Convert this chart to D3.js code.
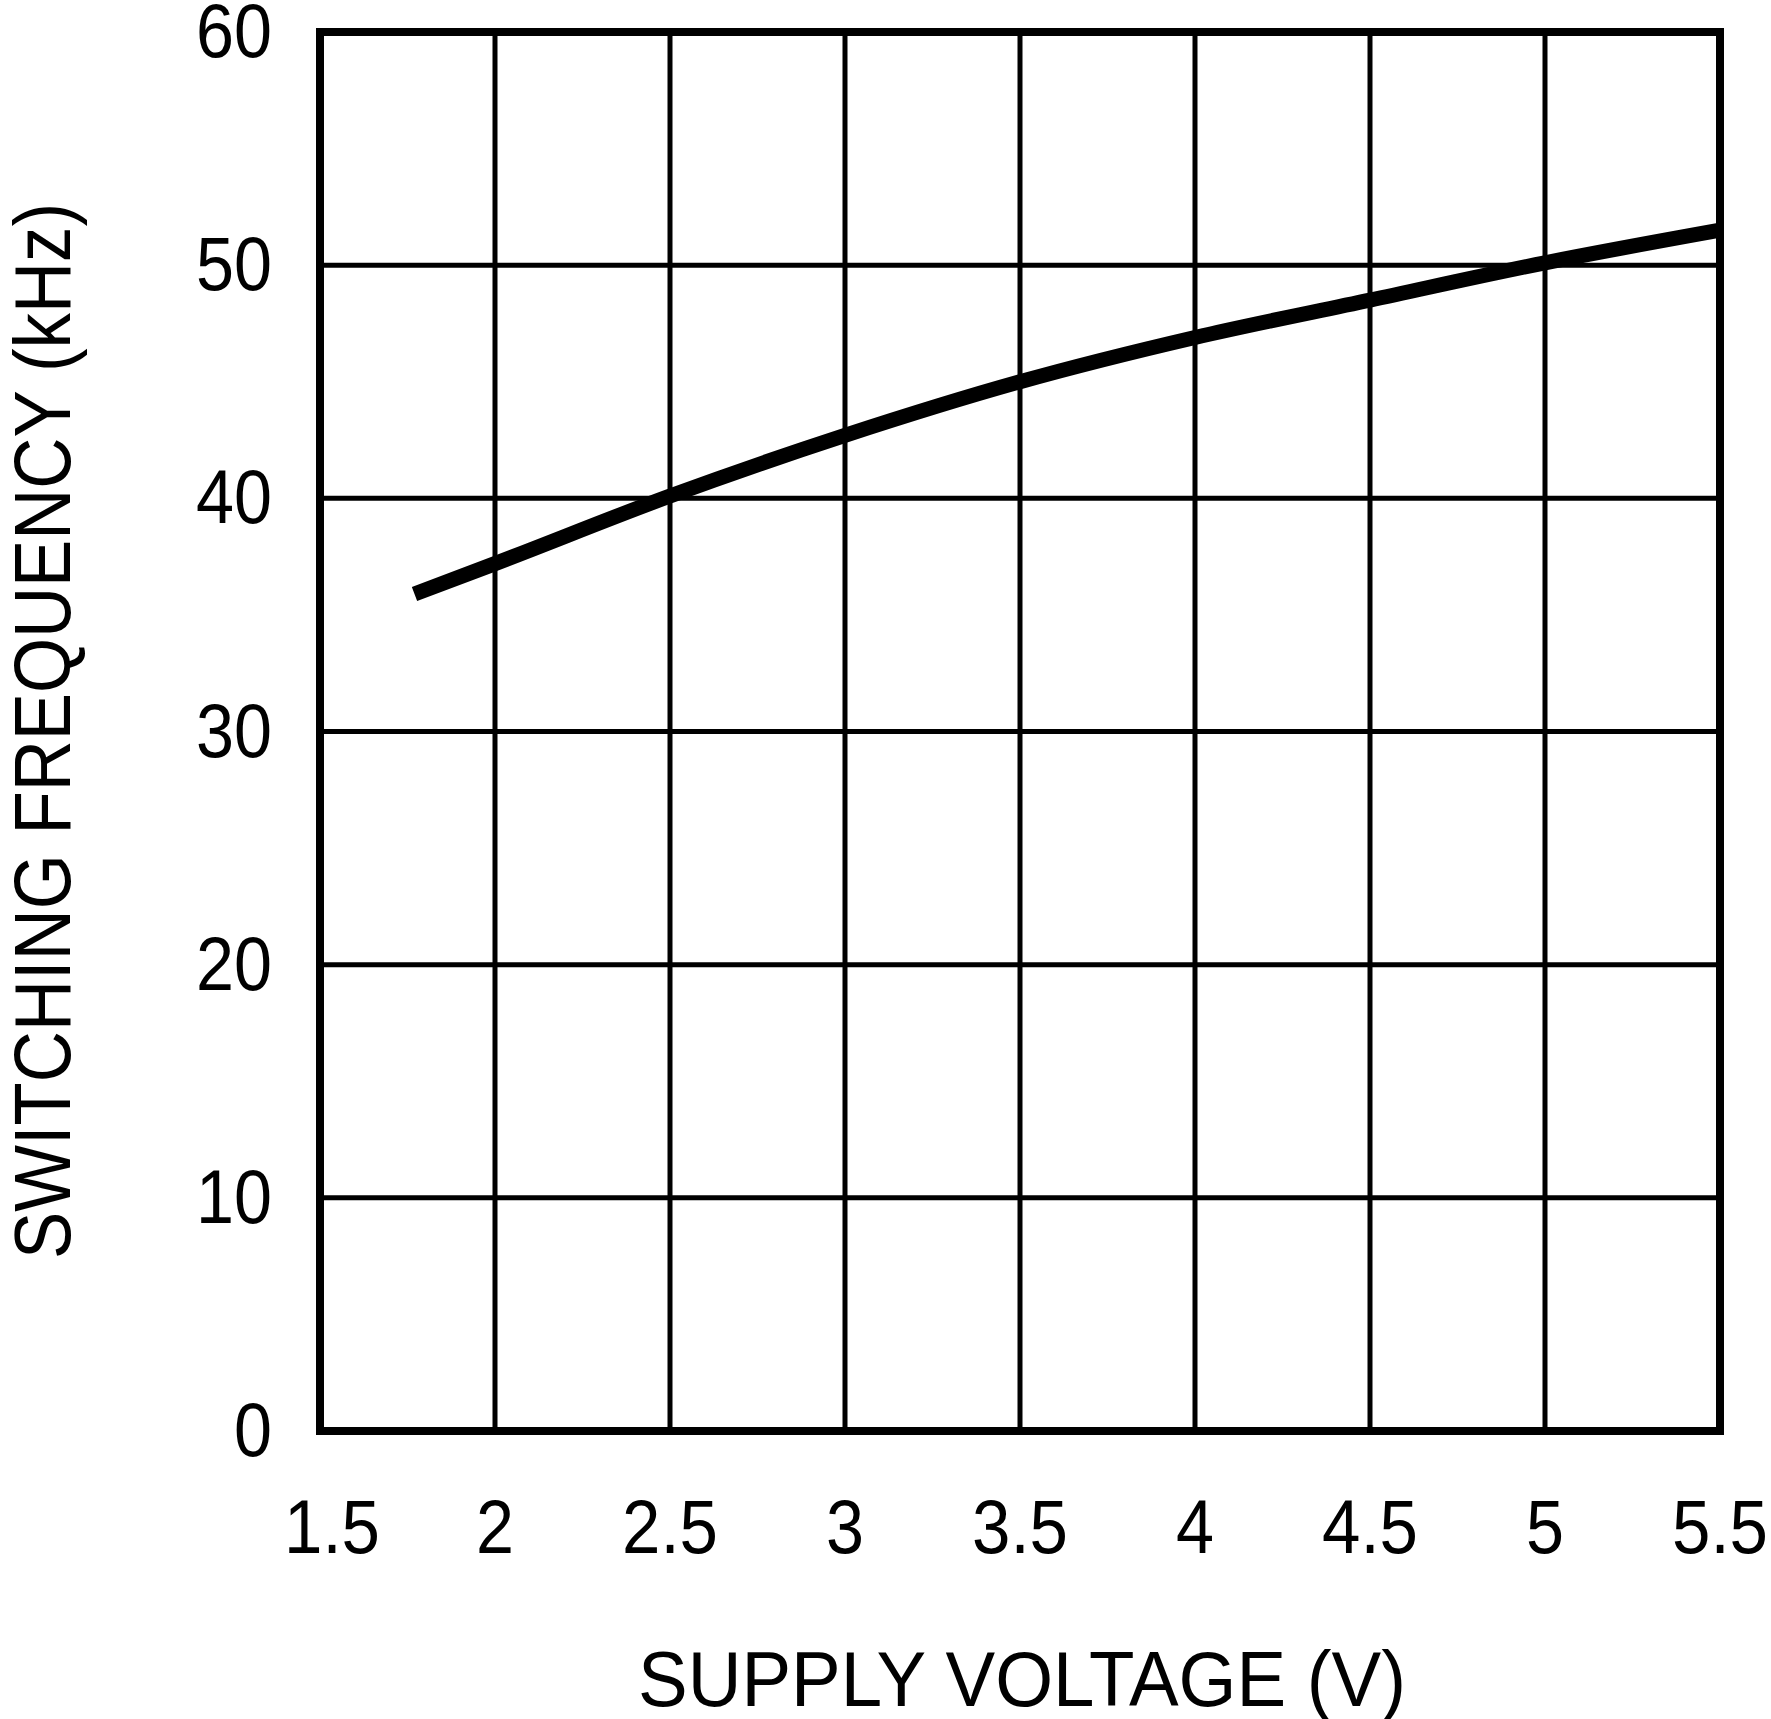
<!DOCTYPE html>
<html>
<head>
<meta charset="utf-8">
<script src="https://cdn.jsdelivr.net/npm/d3@7"></script>
<style>
  html, body { margin: 0; padding: 0; background: #fff; }
  svg { display: block; }
  text { font-family: "Liberation Sans", "DejaVu Sans", sans-serif; fill: #000; }
</style>
</head>
<body>
<svg id="chart" width="1771" height="1719"></svg>
<script>
// Data
const supplyVoltage = [1.77, 2.0, 2.5, 3.0, 3.5, 4.0, 4.5, 5.0, 5.5];
const switchingFreq = [35.9, 37.2, 40.1, 42.7, 45.0, 46.9, 48.5, 50.1, 51.5];
const xTicks = [1.5, 2, 2.5, 3, 3.5, 4, 4.5, 5, 5.5];
const yTicks = [0, 10, 20, 30, 40, 50, 60];
const xTitle = "SUPPLY VOLTAGE (V)";
const yTitle = "SWITCHING FREQUENCY (kHz)";

(function () {
const svg = d3.select("#chart");
const pL = 320, pR = 1720, pT = 32, pB = 1431;

const x = d3.scaleLinear().domain([1.5, 5.5]).range([pL, pR]);
const y = d3.scaleLinear().domain([0, 60]).range([pB, pT]);

// grid
const g = svg.append("g");
g.selectAll("line.vg").data(xTicks.slice(1, -1)).enter().append("line")
  .attr("x1", d => x(d)).attr("x2", d => x(d))
  .attr("y1", pT).attr("y2", pB)
  .attr("stroke", "#000").attr("stroke-width", 5);
g.selectAll("line.hg").data(yTicks.slice(1, -1)).enter().append("line")
  .attr("x1", pL).attr("x2", pR)
  .attr("y1", d => y(d)).attr("y2", d => y(d))
  .attr("stroke", "#000").attr("stroke-width", 5);

// data line
svg.append("clipPath").attr("id", "clip").append("rect")
  .attr("x", pL).attr("y", pT).attr("width", pR - pL).attr("height", pB - pT);
const line = d3.line()
  .x((d, i) => x(supplyVoltage[i]))
  .y((d, i) => y(switchingFreq[i]))
  .curve(d3.curveMonotoneX);
svg.append("path")
  .attr("d", line(switchingFreq))
  .attr("fill", "none").attr("stroke", "#000").attr("stroke-width", 15)
  .attr("stroke-linecap", "butt").attr("stroke-linejoin", "round")
  .attr("clip-path", "url(#clip)");

// frame
svg.append("rect")
  .attr("x", pL).attr("y", pT).attr("width", pR - pL).attr("height", pB - pT)
  .attr("fill", "none").attr("stroke", "#000").attr("stroke-width", 8);

function labelWidth(s) {
  let w = 0;
  for (const c of s) w += (c === "." ? 20 : 38);
  return w;
}

// y tick labels
svg.selectAll("text.yt").data(yTicks).enter().append("text")
  .attr("x", 272).attr("y", d => y(d) + 25)
  .attr("text-anchor", "end")
  .attr("font-size", 76)
  .attr("textLength", d => labelWidth(String(d)))
  .attr("lengthAdjust", "spacingAndGlyphs")
  .text(d => String(d));

// x tick labels
svg.selectAll("text.xt").data(xTicks).enter().append("text")
  .attr("x", d => x(d) + (String(d)[0] === "1" ? 12 : 0)).attr("y", 1553)
  .attr("text-anchor", "middle")
  .attr("font-size", 76)
  .attr("textLength", d => labelWidth(String(d)))
  .attr("lengthAdjust", "spacingAndGlyphs")
  .text(d => String(d));

// axis titles
svg.append("text")
  .attr("x", 1022).attr("y", 1706)
  .attr("text-anchor", "middle")
  .attr("font-size", 77)
  .attr("textLength", 768)
  .attr("lengthAdjust", "spacingAndGlyphs")
  .text(xTitle);

svg.append("text")
  .attr("transform", "translate(70,731) rotate(-90)")
  .attr("x", 0).attr("y", 0)
  .attr("text-anchor", "middle")
  .attr("font-size", 79)
  .attr("textLength", 1056)
  .attr("lengthAdjust", "spacingAndGlyphs")
  .text(yTitle);
})();
</script>
</body>
</html>
